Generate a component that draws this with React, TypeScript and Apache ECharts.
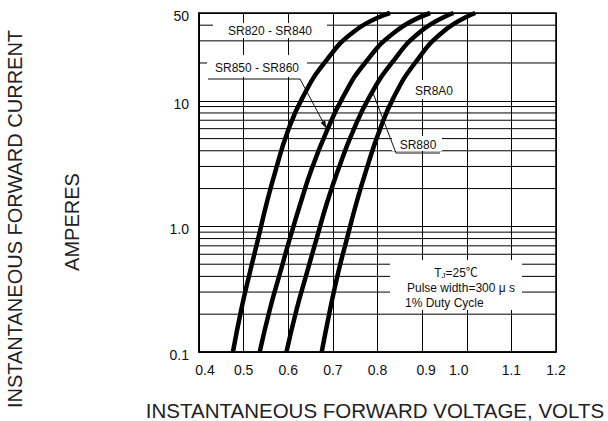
import React, { useEffect, useRef } from "react";
import * as echarts from "echarts";

// Forward current levels (A) at which the curve voltages were read
const currentLevels = [0.1, 0.22, 0.43, 0.81, 1.55, 2.9, 5.6, 10.6, 20, 36, 50];
// Forward voltage (V) of each device family at the current levels above
const vSR820_840 = [0.476, 0.495, 0.514, 0.533, 0.552, 0.573, 0.598, 0.632, 0.681, 0.749, 0.828];
const vSR850_860 = [0.536, 0.559, 0.582, 0.604, 0.628, 0.653, 0.685, 0.722, 0.772, 0.842, 0.918];
const vSR880 = [0.596, 0.619, 0.642, 0.664, 0.687, 0.713, 0.744, 0.781, 0.832, 0.898, 0.97];
const vSR8A0 = [0.675, 0.694, 0.712, 0.732, 0.753, 0.776, 0.803, 0.836, 0.884, 0.949, 1.019];

const seriesNames = ["SR820 - SR840", "SR850 - SR860", "SR880", "SR8A0"];
const xTickLabels = ["0.4", "0.5", "0.6", "0.7", "0.8", "0.9", "1.0", "1.1", "1.2"];
const yTickValues = [0.1, 1, 10, 50];
const yTickLabels = ["0.1", "1.0", "10", "50"];
const minorGridValues = [0.2, 0.3, 0.4, 0.5, 0.6, 0.7, 0.8, 0.9, 2, 3, 4, 5, 6, 7, 8, 9, 20, 30, 40];

// annotation anchor points (data coords) where leaders touch curves
const tipSR850 = [0.686, 6];
const tipSR880 = [0.79, 11.5];

const FONT = "'Liberation Sans', Arial, 'Noto Sans CJK SC', sans-serif";

export default function App() {
  const ref = useRef<HTMLDivElement>(null);

  useEffect(() => {
    if (!ref.current) return;
    const chart = echarts.init(ref.current, null, { renderer: "svg" });

    const curveSets = [vSR820_840, vSR850_860, vSR880, vSR8A0];
    const curveSeries = curveSets.map((vs, i) => ({
      name: seriesNames[i],
      type: "line",
      data: vs.map((v, j) => [v, currentLevels[j]]),
      smooth: 0.5,
      symbol: "none",
      lineStyle: { color: "#000", width: 4.5 },
      z: 10,
      silent: true,
    }));
    const minorSeries = minorGridValues.map((g) => ({
      type: "line",
      data: [
        [0.4, g],
        [1.2, g],
      ],
      symbol: "none",
      lineStyle: { color: "#000", width: 1 },
      z: 1,
      silent: true,
    }));

    const xNudge: Record<string, string> = { "0.4": "r6", "0.9": "r4", "1.0": "l8" };

    chart.setOption({
      animation: false,
      grid: {
        left: 199,
        right: 52,
        top: 13,
        bottom: 69,
        show: true,
        borderColor: "#000",
        borderWidth: 1.5,
        backgroundColor: "#fff",
      },
      xAxis: {
        type: "value",
        min: 0.4,
        max: 1.2,
        interval: 0.1,
        axisLine: { show: true, lineStyle: { color: "#000", width: 1.5 } },
        axisTick: { show: false },
        splitLine: { show: true, lineStyle: { color: "#000", width: 1 } },
        axisLabel: {
          margin: 11,
          color: "#111",
          fontSize: 14,
          fontFamily: FONT,
          formatter: (v: number) => {
            const idx = Math.round((v - 0.4) / 0.1);
            const s = xTickLabels[idx] ?? v.toFixed(1);
            const k = xNudge[s];
            return k ? `{${k}|${s}}` : s;
          },
          rich: {
            r6: { padding: [0, 0, 0, 12], fontSize: 14, color: "#111", fontFamily: FONT },
            r4: { padding: [0, 0, 0, 8], fontSize: 14, color: "#111", fontFamily: FONT },
            l8: { padding: [0, 16, 0, 0], fontSize: 14, color: "#111", fontFamily: FONT },
          },
        },
      },
      yAxis: {
        type: "log",
        logBase: 10,
        min: 0.1,
        max: 50,
        axisLine: { show: true, lineStyle: { color: "#000", width: 1.5 } },
        axisTick: { show: false },
        splitLine: { show: true, lineStyle: { color: "#000", width: 1 } },
        axisLabel: {
          margin: 10,
          color: "#111",
          fontSize: 14,
          fontFamily: FONT,
          formatter: (v: number) => {
            let best = 0;
            let bd = Infinity;
            yTickValues.forEach((t, i) => {
              const d = Math.abs(Math.log10(v) - Math.log10(t));
              if (d < bd) {
                bd = d;
                best = i;
              }
            });
            return `{a|${yTickLabels[best]}}`;
          },
          rich: { a: { padding: [6, 0, 0, 0], fontSize: 14, color: "#111", fontFamily: FONT } },
        },
      },
      series: [...minorSeries, ...curveSeries],
    });

    const p850 = chart.convertToPixel({ gridIndex: 0 }, tipSR850) as number[];
    const p880 = chart.convertToPixel({ gridIndex: 0 }, tipSR880) as number[];

    const s850 = [300, 79];
    const dx = p850[0] - s850[0];
    const dy = p850[1] - s850[1];
    const len = Math.sqrt(dx * dx + dy * dy);
    const ux = dx / len;
    const uy = dy / len;
    const nx = -uy;
    const ny = ux;
    const aL = 8;
    const aW = 2.6;
    const arrowPts = [
      [p850[0], p850[1]],
      [p850[0] - ux * aL + nx * aW, p850[1] - uy * aL + ny * aW],
      [p850[0] - ux * aL - nx * aW, p850[1] - uy * aL - ny * aW],
    ];

    const txt = (text: string, x: number, y: number, extra: any = {}) => ({
      type: "text",
      x,
      y,
      z: 12,
      style: {
        text,
        fill: "#111",
        font: `12px ${FONT}`,
        align: "center",
        verticalAlign: "middle",
        ...extra,
      },
    });
    const box = (x: number, y: number, w: number, h: number) => ({
      type: "rect",
      z: 5,
      shape: { x, y, width: w, height: h },
      style: { fill: "#fff" },
      silent: true,
    });

    chart.setOption({
      graphic: [
        // white label boxes
        box(213, 23, 114, 15),
        box(207, 55, 100, 22),
        box(411, 80, 46, 19),
        box(392, 136, 50, 15),
        box(390, 260, 132, 50),
        // labels
        txt("SR820 - SR840", 270, 31),
        txt("SR850 - SR860", 257, 68),
        txt("SR8A0", 434, 91),
        txt("SR880", 418, 145),
        {
          type: "text",
          x: 456,
          y: 273,
          z: 12,
          style: {
            text: "{a|T}{b|J}{a|=25℃}",
            align: "center",
            verticalAlign: "middle",
            rich: {
              a: { font: `12px ${FONT}`, fill: "#111", lineHeight: 14 },
              b: { font: `8px ${FONT}`, fill: "#111", lineHeight: 14, padding: [5, 0, 0, 0] },
            },
          },
        },
        txt("Pulse width=300 μ s", 461, 288),
        txt("1% Duty Cycle", 405, 303, { align: "left" }),
        // leaders
        {
          type: "polyline",
          z: 11,
          shape: { points: [[208, 79], s850, [p850[0] - ux * 6, p850[1] - uy * 6]] },
          style: { stroke: "#111", lineWidth: 1, fill: "none" },
          silent: true,
        },
        {
          type: "polygon",
          z: 11,
          shape: { points: arrowPts },
          style: { fill: "#111" },
          silent: true,
        },
        {
          type: "polyline",
          z: 11,
          shape: { points: [[p880[0], p880[1]], [396, 153], [440, 153]] },
          style: { stroke: "#111", lineWidth: 1, fill: "none" },
          silent: true,
        },
        // axis titles
        {
          type: "text",
          x: 15,
          y: 219,
          rotation: Math.PI / 2,
          style: {
            text: "INSTANTANEOUS FORWARD CURRENT",
            font: `20px ${FONT}`,
            fill: "#222",
            align: "center",
            verticalAlign: "middle",
          },
        },
        {
          type: "text",
          x: 72,
          y: 222,
          rotation: Math.PI / 2,
          style: {
            text: "AMPERES",
            font: `20px ${FONT}`,
            fill: "#222",
            align: "center",
            verticalAlign: "middle",
          },
        },
        {
          type: "text",
          x: 375,
          y: 410,
          style: {
            text: "INSTANTANEOUS FORWARD VOLTAGE, VOLTS",
            font: `20.5px ${FONT}`,
            fill: "#222",
            align: "center",
            verticalAlign: "middle",
          },
        },
      ],
    });

    return () => chart.dispose();
  }, []);

  return (
    <div
      ref={ref}
      style={{ position: "absolute", left: 0, top: 0, width: 608, height: 421, background: "#fff" }}
    />
  );
}
